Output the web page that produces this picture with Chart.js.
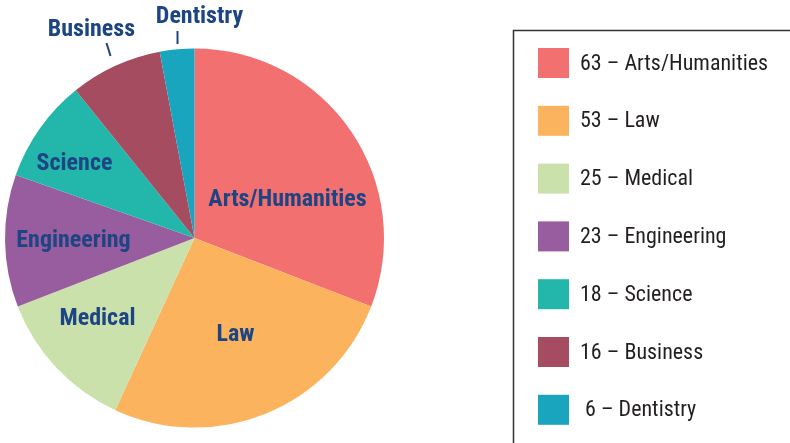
<!DOCTYPE html>
<html>
<head>
<meta charset="utf-8">
<script src="https://cdn.jsdelivr.net/npm/chart.js@4.4.1/dist/chart.umd.min.js"></script>
<style>
  html, body { margin: 0; padding: 0; background: #fff; }
  #wrap { width: 790px; height: 443px; position: relative; }
</style>
</head>
<body>
<div id="wrap"><canvas id="chart" width="790" height="443"></canvas></div>
<script>
// Degree counts by field
const fields = ['Arts/Humanities', 'Law', 'Medical', 'Engineering', 'Science', 'Business', 'Dentistry'];
const counts = [63, 53, 25, 23, 18, 16, 6];
const colors = ['#F27070', '#FBB35E', '#CAE1AB', '#985D9F', '#22B7AA', '#A64C61', '#1AA5BF'];

// Where each slice label sits, relative to the pie centre (px)
const labelOffsets = [
    [93, -38], [41, 97], [-97, 81], [-121, 3], [-120, -74], [-103, -208], [5, -221]
];
// Leader lines for the labels placed outside the pie [x1, y1, x2, y2] relative to centre
const leaders = [null, null, null, null, null, [-88, -195, -84, -182], [-17, -207, -17, -194]];

const LABEL_FONT = 'bold 24px "Liberation Sans Narrow", "Roboto Condensed", "Arial Narrow", sans-serif';
const LEGEND_FONT = '22px "Liberation Sans Narrow", "Roboto Condensed", "Arial Narrow", sans-serif';

const sliceLabels = {
    id: 'sliceLabels',
    afterDatasetsDraw(chart) {
        const ctx = chart.ctx;
        const arc = chart.getDatasetMeta(0).data[0];
        const cx = arc.x, cy = arc.y;
        ctx.save();
        ctx.font = LABEL_FONT;
        ctx.fillStyle = '#1D4483';
        ctx.textAlign = 'center';
        ctx.textBaseline = 'middle';
        fields.forEach((f, i) => {
            const [dx, dy] = labelOffsets[i];
            ctx.fillText(f, cx + dx, cy + dy);
            const l = leaders[i];
            if (l) {
                ctx.strokeStyle = '#1D4483';
                ctx.lineWidth = 2;
                ctx.beginPath();
                ctx.moveTo(cx + l[0], cy + l[1]);
                ctx.lineTo(cx + l[2], cy + l[3]);
                ctx.stroke();
            }
        });
        ctx.restore();
    }
};

const boxLegend = {
    id: 'boxLegend',
    afterDraw(chart) {
        const ctx = chart.ctx;
        ctx.save();
        ctx.strokeStyle = '#333';
        ctx.lineWidth = 1.5;
        ctx.strokeRect(513.5, 30.5, 400, 500);
        ctx.font = LEGEND_FONT;
        ctx.textBaseline = 'middle';
        ctx.textAlign = 'left';
        fields.forEach((f, i) => {
            const y = 63 + i * 57.8;
            ctx.fillStyle = colors[i];
            ctx.fillRect(538, y - 15, 31, 30);
            ctx.fillStyle = '#231F20';
            const num = String(counts[i]).padStart(2, ' ');
            ctx.fillText(`${num} \u2013 ${f}`, 580, y + 1);
        });
        ctx.restore();
    }
};

new Chart(document.getElementById('chart'), {
    type: 'pie',
    data: {
        labels: fields,
        datasets: [{
            data: counts,
            backgroundColor: colors,
            borderWidth: 0
        }]
    },
    options: {
        responsive: false,
        animation: false,
        layout: { padding: { left: 5, right: 406, top: 48, bottom: 15 } },
        plugins: {
            legend: { display: false },
            tooltip: { enabled: false }
        }
    },
    plugins: [sliceLabels, boxLegend]
});
</script>
</body>
</html>
